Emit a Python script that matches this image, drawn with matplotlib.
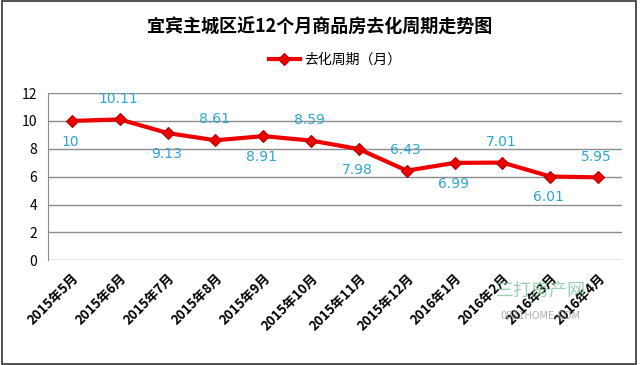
import matplotlib
matplotlib.use('Agg')
import matplotlib.pyplot as plt
from matplotlib.patches import Rectangle

plt.rcParams['font.family'] = ['Noto Sans CJK SC', 'DejaVu Sans']

months = ['2015年5月', '2015年6月', '2015年7月', '2015年8月', '2015年9月', '2015年10月',
          '2015年11月', '2015年12月', '2016年1月', '2016年2月', '2016年3月', '2016年4月']
values = [10, 10.11, 9.13, 8.61, 8.91, 8.59, 7.98, 6.43, 6.99, 7.01, 6.01, 5.95]
labels = ['10', '10.11', '9.13', '8.61', '8.91', '8.59', '7.98', '6.43', '6.99', '7.01', '6.01', '5.95']
yticks = [0, 2, 4, 6, 8, 10, 12]

fig = plt.figure(figsize=(6.4, 3.65), dpi=100)
ax = fig.add_axes([0.075, 0.287, 0.897, 0.458])

x = list(range(len(months)))
ax.plot(x, values, color='#ee0000', lw=3, marker='D', ms=6.5,
        mfc='#ee0000', mec='#b00000', mew=0.8, label='去化周期（月）', zorder=3)

for i, (v, t) in enumerate(zip(values, labels)):
    off = -15 if i % 2 == 0 else 15
    ax.annotate(t, (i, v), xytext=(-1, off), textcoords='offset points',
                ha='center', va='center', color='#2aa6d6', fontsize=10,
                family='DejaVu Sans')

ax.set_xlim(-0.5, len(months) - 0.5)
ax.set_ylim(0, 12)
ax.set_yticks(yticks)
ax.set_yticklabels([str(t) for t in yticks], fontsize=10)
ax.yaxis.grid(True, color='#8c8c8c', lw=1)
ax.set_axisbelow(True)
ax.tick_params(axis='both', length=0, pad=8)
ax.set_xticks(x)
ax.set_xticklabels(months, rotation=45, ha='right', rotation_mode='anchor',
                   fontsize=9.5, fontweight='bold')
for s in ['top', 'right', 'bottom']:
    ax.spines[s].set_visible(False)
ax.spines['left'].set_color('#8c8c8c')

fig.text(0.5, 0.925, '宜宾主城区近12个月商品房去化周期走势图', ha='center', va='center',
         fontsize=13, fontweight='bold')
ax.legend(loc='center', bbox_to_anchor=(0.5, 1.2), frameon=False, fontsize=10,
          handlelength=2.2, handletextpad=0.3, borderaxespad=0)

# watermark
fig.text(0.845, 0.205, '三打房产网', color='#7fc99a', fontsize=13, alpha=0.8,
         ha='center', va='center')
fig.text(0.845, 0.135, '0831HOME.COM', color='#9a9a9a', fontsize=7, alpha=0.8,
         ha='center', va='center', family='DejaVu Sans')

fig.patches.append(Rectangle((0.003, 0.003), 0.991, 0.994, transform=fig.transFigure,
                             fill=False, ec='#333333', lw=1.2))

fig.savefig('out.png', dpi=100)
